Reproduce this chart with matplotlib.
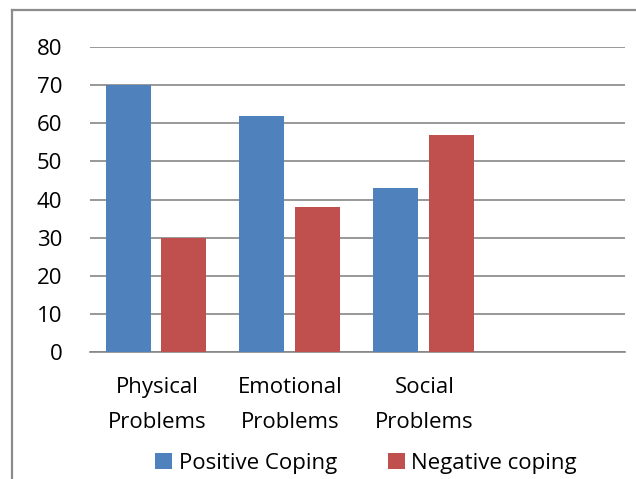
import matplotlib
matplotlib.use('Agg')
import matplotlib.pyplot as plt
import numpy as np

plt.rcParams['font.family'] = ['Open Sans', 'DejaVu Sans']
plt.rcParams['font.size'] = 16

# data
categories = ['Physical\nProblems', 'Emotional\nProblems', 'Social\nProblems', '']
positive = [70, 62, 43, np.nan]
negative = [30, 38, 57, np.nan]
yticks = [0, 10, 20, 30, 40, 50, 60, 70, 80]

blue = '#4f81bd'
red = '#c0504d'

fig = plt.figure(figsize=(6.36, 4.79), dpi=100)
# axes box in pixels: x 90..625, y 47..352 (from top)
W, H = 636, 479
ax = fig.add_axes([90 / W, 1 - 352 / H, 535 / W, 305 / H])

x = np.arange(len(categories))
w = 0.335
ax.bar(x - 0.215, positive, width=w, color=blue, label='Positive Coping', zorder=3)
ax.bar(x + 0.2, negative, width=w, color=red, label='Negative coping', zorder=3)

ax.set_xlim(-0.5, len(categories) - 0.5)
ax.set_ylim(0, 80)
ax.set_yticks(yticks)
ax.yaxis.grid(True, color='#868686', linewidth=1.2, zorder=0)
ax.set_xticks(x)
ax.set_xticklabels(categories, linespacing=1.9)
ax.tick_params(axis='x', length=0, pad=18)
ax.tick_params(axis='y', length=0, pad=20)
for side in ['top', 'right', 'left']:
    ax.spines[side].set_visible(False)
ax.spines['bottom'].set_color('#868686')
ax.spines['bottom'].set_linewidth(1.2)

ax.legend(loc='center', bbox_to_anchor=(366 / W, 1 - 463 / H), bbox_transform=fig.transFigure,
          ncol=2, frameon=False, handlelength=0.75, handleheight=0.75,
          handletextpad=0.3, columnspacing=2.3, fontsize=16)

# outer chart frame (cropped on the right and bottom)
fig.add_artist(plt.Line2D([12 / W, 1], [1 - 10 / H] * 2, color='#8c8c8c', linewidth=1.6,
                          transform=fig.transFigure))
fig.add_artist(plt.Line2D([12 / W] * 2, [0, 1 - 10 / H], color='#8c8c8c', linewidth=1.6,
                          transform=fig.transFigure))

fig.savefig('out.png', dpi=100)
